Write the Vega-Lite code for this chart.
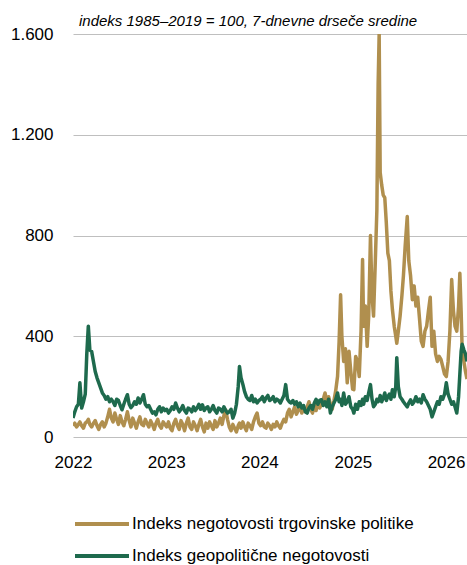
{
  "$schema": "https://vega.github.io/schema/vega-lite/v6.json",
  "width": 394,
  "height": 403,
  "autosize": {"type": "none"},
  "padding": {"left": 73, "top": 34, "right": 0, "bottom": 128},
  "background": "white",
  "title": {
    "text": "indeks 1985–2019 = 100, 7-dnevne drseče sredine",
    "anchor": "start",
    "frame": "group",
    "dx": 6,
    "offset": -4,
    "font": "Liberation Sans",
    "fontSize": 15,
    "fontStyle": "italic",
    "fontWeight": "normal",
    "color": "#000000"
  },
  "data": {
    "values": [
      {"d": "2022-01-01", "t": 45, "g": 75},
      {"d": "2022-01-08", "t": 55, "g": 100},
      {"d": "2022-01-15", "t": 40, "g": 120},
      {"d": "2022-01-22", "t": 50, "g": 130},
      {"d": "2022-01-28", "t": 60, "g": 215},
      {"d": "2022-02-04", "t": 45, "g": 115},
      {"d": "2022-02-11", "t": 35, "g": 140},
      {"d": "2022-02-18", "t": 55, "g": 170},
      {"d": "2022-02-24", "t": 60, "g": 330},
      {"d": "2022-03-02", "t": 70, "g": 440},
      {"d": "2022-03-08", "t": 50, "g": 345},
      {"d": "2022-03-15", "t": 40, "g": 340},
      {"d": "2022-03-22", "t": 55, "g": 300},
      {"d": "2022-03-29", "t": 65, "g": 260},
      {"d": "2022-04-05", "t": 45, "g": 235},
      {"d": "2022-04-12", "t": 30, "g": 215},
      {"d": "2022-04-19", "t": 50, "g": 195},
      {"d": "2022-04-26", "t": 60, "g": 175},
      {"d": "2022-05-03", "t": 40, "g": 165},
      {"d": "2022-05-10", "t": 55, "g": 150},
      {"d": "2022-05-17", "t": 80, "g": 160},
      {"d": "2022-05-24", "t": 110, "g": 140},
      {"d": "2022-05-31", "t": 75, "g": 150},
      {"d": "2022-06-07", "t": 60, "g": 140},
      {"d": "2022-06-14", "t": 95, "g": 125},
      {"d": "2022-06-21", "t": 70, "g": 150},
      {"d": "2022-06-28", "t": 50, "g": 145},
      {"d": "2022-07-05", "t": 85, "g": 125},
      {"d": "2022-07-12", "t": 60, "g": 108},
      {"d": "2022-07-19", "t": 45, "g": 130},
      {"d": "2022-07-26", "t": 70, "g": 150},
      {"d": "2022-08-02", "t": 100, "g": 168},
      {"d": "2022-08-09", "t": 65, "g": 130},
      {"d": "2022-08-16", "t": 40, "g": 116},
      {"d": "2022-08-23", "t": 75, "g": 125},
      {"d": "2022-08-30", "t": 55, "g": 140},
      {"d": "2022-09-06", "t": 35, "g": 130},
      {"d": "2022-09-13", "t": 60, "g": 155},
      {"d": "2022-09-20", "t": 80, "g": 135},
      {"d": "2022-09-27", "t": 50, "g": 150},
      {"d": "2022-10-04", "t": 45, "g": 168},
      {"d": "2022-10-11", "t": 70, "g": 130},
      {"d": "2022-10-18", "t": 55, "g": 120},
      {"d": "2022-10-25", "t": 40, "g": 125},
      {"d": "2022-11-01", "t": 65, "g": 110},
      {"d": "2022-11-08", "t": 50, "g": 95},
      {"d": "2022-11-15", "t": 30, "g": 100},
      {"d": "2022-11-22", "t": 55, "g": 88},
      {"d": "2022-11-29", "t": 70, "g": 110},
      {"d": "2022-12-06", "t": 45, "g": 120},
      {"d": "2022-12-13", "t": 35, "g": 100},
      {"d": "2022-12-20", "t": 60, "g": 115},
      {"d": "2022-12-27", "t": 50, "g": 105},
      {"d": "2023-01-03", "t": 40, "g": 110},
      {"d": "2023-01-10", "t": 60, "g": 95},
      {"d": "2023-01-17", "t": 35, "g": 105},
      {"d": "2023-01-24", "t": 25, "g": 120},
      {"d": "2023-01-31", "t": 55, "g": 110},
      {"d": "2023-02-07", "t": 70, "g": 135},
      {"d": "2023-02-14", "t": 45, "g": 115},
      {"d": "2023-02-21", "t": 30, "g": 100},
      {"d": "2023-02-28", "t": 65, "g": 110},
      {"d": "2023-03-07", "t": 50, "g": 125},
      {"d": "2023-03-14", "t": 25, "g": 105},
      {"d": "2023-03-21", "t": 55, "g": 95},
      {"d": "2023-03-28", "t": 75, "g": 115},
      {"d": "2023-04-04", "t": 40, "g": 110},
      {"d": "2023-04-11", "t": 30, "g": 100},
      {"d": "2023-04-18", "t": 60, "g": 120},
      {"d": "2023-04-25", "t": 45, "g": 105},
      {"d": "2023-05-02", "t": 25, "g": 115},
      {"d": "2023-05-09", "t": 50, "g": 130},
      {"d": "2023-05-16", "t": 70, "g": 110},
      {"d": "2023-05-23", "t": 40, "g": 128},
      {"d": "2023-05-30", "t": 20, "g": 105},
      {"d": "2023-06-06", "t": 55, "g": 115},
      {"d": "2023-06-13", "t": 35, "g": 120},
      {"d": "2023-06-20", "t": 60, "g": 100},
      {"d": "2023-06-27", "t": 45, "g": 110},
      {"d": "2023-07-04", "t": 30, "g": 125},
      {"d": "2023-07-11", "t": 65, "g": 105},
      {"d": "2023-07-18", "t": 40, "g": 95},
      {"d": "2023-07-25", "t": 55, "g": 115},
      {"d": "2023-08-01", "t": 75, "g": 110},
      {"d": "2023-08-08", "t": 50, "g": 100},
      {"d": "2023-08-15", "t": 85, "g": 120},
      {"d": "2023-08-22", "t": 108, "g": 105},
      {"d": "2023-08-29", "t": 70, "g": 95},
      {"d": "2023-09-05", "t": 40, "g": 100},
      {"d": "2023-09-12", "t": 25, "g": 110},
      {"d": "2023-09-19", "t": 50, "g": 75},
      {"d": "2023-09-26", "t": 35, "g": 95},
      {"d": "2023-10-03", "t": 20, "g": 130},
      {"d": "2023-10-10", "t": 45, "g": 200},
      {"d": "2023-10-15", "t": 55, "g": 280},
      {"d": "2023-10-21", "t": 35, "g": 235},
      {"d": "2023-10-28", "t": 60, "g": 210},
      {"d": "2023-11-04", "t": 40, "g": 180},
      {"d": "2023-11-11", "t": 25, "g": 160},
      {"d": "2023-11-18", "t": 55, "g": 150},
      {"d": "2023-11-25", "t": 45, "g": 145},
      {"d": "2023-12-02", "t": 30, "g": 165},
      {"d": "2023-12-09", "t": 60, "g": 140},
      {"d": "2023-12-16", "t": 80, "g": 150},
      {"d": "2023-12-23", "t": 95, "g": 135},
      {"d": "2023-12-30", "t": 55, "g": 145},
      {"d": "2024-01-06", "t": 45, "g": 150},
      {"d": "2024-01-13", "t": 60, "g": 160},
      {"d": "2024-01-20", "t": 40, "g": 140},
      {"d": "2024-01-27", "t": 35, "g": 155},
      {"d": "2024-02-03", "t": 55, "g": 165},
      {"d": "2024-02-10", "t": 45, "g": 145},
      {"d": "2024-02-17", "t": 30, "g": 150},
      {"d": "2024-02-24", "t": 50, "g": 160},
      {"d": "2024-03-02", "t": 40, "g": 140},
      {"d": "2024-03-09", "t": 60, "g": 150},
      {"d": "2024-03-16", "t": 45, "g": 145},
      {"d": "2024-03-23", "t": 35, "g": 135},
      {"d": "2024-03-30", "t": 55, "g": 150},
      {"d": "2024-04-06", "t": 70, "g": 165},
      {"d": "2024-04-13", "t": 60, "g": 208},
      {"d": "2024-04-20", "t": 95, "g": 150},
      {"d": "2024-04-27", "t": 110, "g": 140},
      {"d": "2024-05-04", "t": 80, "g": 135},
      {"d": "2024-05-11", "t": 100, "g": 145},
      {"d": "2024-05-18", "t": 120, "g": 130},
      {"d": "2024-05-25", "t": 90, "g": 140},
      {"d": "2024-06-01", "t": 105, "g": 120},
      {"d": "2024-06-08", "t": 130, "g": 135},
      {"d": "2024-06-15", "t": 95, "g": 115},
      {"d": "2024-06-22", "t": 115, "g": 125},
      {"d": "2024-06-29", "t": 100, "g": 100},
      {"d": "2024-07-06", "t": 120, "g": 95},
      {"d": "2024-07-13", "t": 140, "g": 115},
      {"d": "2024-07-20", "t": 110, "g": 125},
      {"d": "2024-07-27", "t": 95, "g": 110},
      {"d": "2024-08-03", "t": 125, "g": 135},
      {"d": "2024-08-10", "t": 105, "g": 150},
      {"d": "2024-08-17", "t": 140, "g": 130},
      {"d": "2024-08-24", "t": 115, "g": 145},
      {"d": "2024-08-31", "t": 130, "g": 148},
      {"d": "2024-09-07", "t": 150, "g": 125},
      {"d": "2024-09-14", "t": 175, "g": 140},
      {"d": "2024-09-21", "t": 140, "g": 120},
      {"d": "2024-09-28", "t": 160, "g": 150},
      {"d": "2024-10-05", "t": 130, "g": 95},
      {"d": "2024-10-12", "t": 110, "g": 120},
      {"d": "2024-10-19", "t": 145, "g": 135},
      {"d": "2024-10-26", "t": 185, "g": 150},
      {"d": "2024-11-02", "t": 240, "g": 175},
      {"d": "2024-11-08", "t": 375, "g": 140},
      {"d": "2024-11-14", "t": 565, "g": 150},
      {"d": "2024-11-19", "t": 400, "g": 125},
      {"d": "2024-11-26", "t": 300, "g": 175},
      {"d": "2024-12-03", "t": 350, "g": 130},
      {"d": "2024-12-10", "t": 215, "g": 140},
      {"d": "2024-12-17", "t": 340, "g": 160},
      {"d": "2024-12-24", "t": 260, "g": 120},
      {"d": "2024-12-31", "t": 190, "g": 110},
      {"d": "2025-01-05", "t": 188, "g": 95},
      {"d": "2025-01-12", "t": 320, "g": 130},
      {"d": "2025-01-19", "t": 300, "g": 110},
      {"d": "2025-01-26", "t": 240, "g": 140},
      {"d": "2025-02-02", "t": 420, "g": 125},
      {"d": "2025-02-08", "t": 705, "g": 150},
      {"d": "2025-02-12", "t": 440, "g": 130},
      {"d": "2025-02-19", "t": 520, "g": 160},
      {"d": "2025-02-26", "t": 360, "g": 145},
      {"d": "2025-03-04", "t": 480, "g": 175},
      {"d": "2025-03-11", "t": 800, "g": 208},
      {"d": "2025-03-17", "t": 560, "g": 150},
      {"d": "2025-03-23", "t": 480, "g": 120},
      {"d": "2025-03-30", "t": 700, "g": 130},
      {"d": "2025-04-05", "t": 900, "g": 150},
      {"d": "2025-04-10", "t": 1400, "g": 140},
      {"d": "2025-04-14", "t": 1600, "g": 145},
      {"d": "2025-04-18", "t": 1050, "g": 165},
      {"d": "2025-04-24", "t": 1000, "g": 140},
      {"d": "2025-04-30", "t": 960, "g": 155},
      {"d": "2025-05-06", "t": 950, "g": 175},
      {"d": "2025-05-12", "t": 850, "g": 145},
      {"d": "2025-05-18", "t": 730, "g": 160},
      {"d": "2025-05-24", "t": 700, "g": 170},
      {"d": "2025-05-30", "t": 580, "g": 150},
      {"d": "2025-06-05", "t": 505, "g": 188},
      {"d": "2025-06-12", "t": 440, "g": 160},
      {"d": "2025-06-18", "t": 400, "g": 200},
      {"d": "2025-06-22", "t": 372, "g": 315},
      {"d": "2025-06-28", "t": 420, "g": 200},
      {"d": "2025-07-05", "t": 480, "g": 160},
      {"d": "2025-07-12", "t": 560, "g": 150},
      {"d": "2025-07-18", "t": 640, "g": 140},
      {"d": "2025-07-25", "t": 760, "g": 130},
      {"d": "2025-08-02", "t": 875, "g": 120},
      {"d": "2025-08-08", "t": 700, "g": 135},
      {"d": "2025-08-15", "t": 640, "g": 148},
      {"d": "2025-08-22", "t": 545, "g": 130},
      {"d": "2025-08-29", "t": 600, "g": 140},
      {"d": "2025-09-05", "t": 520, "g": 160},
      {"d": "2025-09-12", "t": 555, "g": 140},
      {"d": "2025-09-19", "t": 470, "g": 150},
      {"d": "2025-09-26", "t": 380, "g": 135},
      {"d": "2025-10-03", "t": 360, "g": 168},
      {"d": "2025-10-10", "t": 420, "g": 150},
      {"d": "2025-10-17", "t": 440, "g": 140},
      {"d": "2025-10-24", "t": 500, "g": 125},
      {"d": "2025-10-31", "t": 555, "g": 110},
      {"d": "2025-11-07", "t": 360, "g": 80},
      {"d": "2025-11-14", "t": 420, "g": 100},
      {"d": "2025-11-21", "t": 330, "g": 120},
      {"d": "2025-11-28", "t": 300, "g": 140},
      {"d": "2025-12-05", "t": 320, "g": 130},
      {"d": "2025-12-12", "t": 308, "g": 160},
      {"d": "2025-12-19", "t": 280, "g": 150},
      {"d": "2025-12-26", "t": 250, "g": 170},
      {"d": "2026-01-02", "t": 240, "g": 215},
      {"d": "2026-01-09", "t": 300, "g": 170},
      {"d": "2026-01-16", "t": 420, "g": 150},
      {"d": "2026-01-23", "t": 625, "g": 130},
      {"d": "2026-01-30", "t": 500, "g": 140},
      {"d": "2026-02-05", "t": 440, "g": 120},
      {"d": "2026-02-12", "t": 420, "g": 95},
      {"d": "2026-02-19", "t": 520, "g": 160},
      {"d": "2026-02-24", "t": 650, "g": 250},
      {"d": "2026-03-01", "t": 500, "g": 340},
      {"d": "2026-03-05", "t": 348, "g": 368},
      {"d": "2026-03-12", "t": 300, "g": 345},
      {"d": "2026-03-18", "t": 260, "g": 330},
      {"d": "2026-03-24", "t": 230, "g": 300}
    ]
  },
  "transform": [
    {"fold": ["t", "g"], "as": ["serija", "vrednost"]}
  ],
  "mark": {"type": "line", "strokeWidth": 3.5, "strokeJoin": "round", "clip": true},
  "encoding": {
    "x": {
      "field": "d",
      "type": "temporal",
      "scale": {
        "type": "utc",
        "domain": [
          {"year": 2022, "month": 1, "date": 1, "utc": true},
          {"year": 2026, "month": 3, "date": 24, "utc": true}
        ]
      },
      "axis": {
        "title": null,
        "format": "%Y",
        "formatType": "utc",
        "values": [
          {"year": 2022, "month": 1, "date": 1, "utc": true},
          {"year": 2023, "month": 1, "date": 1, "utc": true},
          {"year": 2024, "month": 1, "date": 1, "utc": true},
          {"year": 2025, "month": 1, "date": 1, "utc": true},
          {"year": 2026, "month": 1, "date": 1, "utc": true}
        ],
        "grid": false,
        "ticks": false,
        "tickSize": 0,
        "domain": false,
        "labelPadding": 17,
        "labelFont": "Liberation Sans",
        "labelFontSize": 17,
        "labelColor": "#000000",
        "labelFlush": false,
        "labelOverlap": false
      }
    },
    "y": {
      "field": "vrednost",
      "type": "quantitative",
      "scale": {"domain": [0, 1600], "nice": false},
      "axis": {
        "title": null,
        "values": [0, 400, 800, 1200, 1600],
        "labelExpr": "replace(format(datum.value, ','), ',', '.')",
        "grid": true,
        "gridColor": "#BFBFBF",
        "gridWidth": 1,
        "ticks": false,
        "tickSize": 0,
        "domain": false,
        "labelPadding": 20,
        "labelFont": "Liberation Sans",
        "labelFontSize": 17,
        "labelColor": "#000000"
      }
    },
    "color": {
      "field": "serija",
      "type": "nominal",
      "scale": {"domain": ["t", "g"], "range": ["#B08F4E", "#1E6A4D"]},
      "legend": {
        "title": null,
        "orient": "none",
        "legendX": 18,
        "legendY": 479,
        "direction": "vertical",
        "symbolType": "M-3,0H3",
        "symbolSize": 324,
        "symbolStrokeWidth": 4,
        "symbolFillColor": "transparent",
        "labelOffset": 19,
        "rowPadding": 13,
        "labelFont": "Liberation Sans",
        "labelFontSize": 17,
        "labelColor": "#000000",
        "labelLimit": 400,
        "labelExpr": "datum.value == 't' ? 'Indeks negotovosti trgovinske politike' : 'Indeks geopolitične negotovosti'"
      }
    }
  },
  "config": {
    "view": {"stroke": null},
    "font": "Liberation Sans"
  }
}
